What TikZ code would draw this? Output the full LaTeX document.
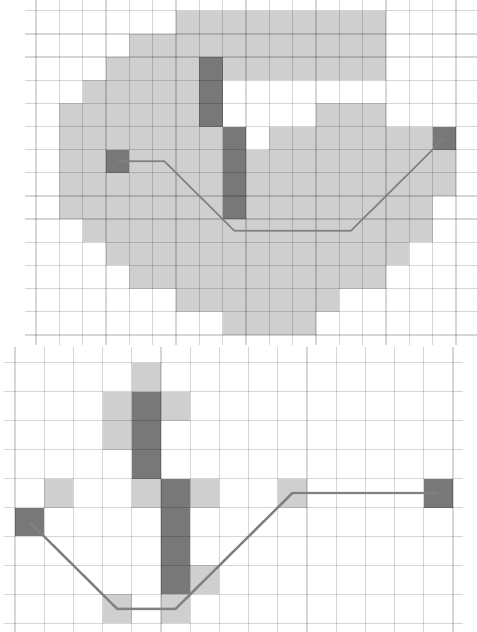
\documentclass[tikz,border=0pt]{standalone}
\usepackage{tikz}
\definecolor{cellGray}{HTML}{CFCFCF}
\definecolor{wallGray}{HTML}{787878}
\definecolor{pathGray}{HTML}{808080}

\begin{document}
\begin{tikzpicture}[x=0.75pt,y=-0.75pt,
  gridline/.style={draw=black,draw opacity=0.16,line width=1pt},
  seen/.style={fill=cellGray},
  wall/.style={fill=wallGray},
  route/.style={draw=pathGray,line width=1.2pt,line join=round}]
  \useasboundingbox (0,0) rectangle (476,632);

  % top: whole search area
  \begin{scope}[shift={(36,10.7)},x=17.5pt,y=-17.37pt]
    \foreach \r/\a/\b in {0/6/14,1/4/14,2/3/14,3/2/7,4/1/7,4/12/14,
      5/1/8,5/10/17,6/1/17,7/1/17,8/1/16,9/2/16,10/3/15,11/4/14,
      12/6/12,13/8/11}{
      \fill[seen] (\a,\r) rectangle (\b+1,\r+1);
    }
    \foreach \c/\r in {7/2,7/3,7/4,8/5,8/6,8/7,8/8,3/6,17/5}{
      \fill[wall] (\c,\r) rectangle ++(1,1);
    }
    \foreach \i in {0,...,18}{
      \draw[gridline] (\i,-0.46) -- (\i,14.43);
    }
    \foreach \j in {0,...,14}{
      \draw[gridline] (-0.47,\j) -- (18.9,\j);
    }
    \coordinate (topStart) at (3.5,6.5);
    \coordinate (topGoal) at (17.5,5.5);
    \draw[route] (topStart) -- ++(2,0) -- ++(3,3) -- ++(5,0) -- (topGoal);
  \end{scope}

  % bottom: close-up of the wall
  \begin{scope}[shift={(15,362.7)},x=21.9pt,y=-21.72pt]
    \foreach \c/\r in {4/0,3/1,5/1,3/2,1/4,4/4,6/4,9/4,6/7,3/8,5/8}{
      \fill[seen] (\c,\r) rectangle ++(1,1);
    }
    \foreach \c/\r in {4/1,4/2,4/3,5/4,5/5,5/6,5/7,0/5,14/4}{
      \fill[wall] (\c,\r) rectangle ++(1,1);
    }
    \foreach \i in {0,...,15}{
      \draw[gridline] (\i,-0.55) -- (\i,9.35);
    }
    \foreach \j in {0,...,9}{
      \draw[gridline] (-0.38,\j) -- (15.33,\j);
    }
    \coordinate (lowStart) at (0.5,5.5);
    \coordinate (lowGoal) at (14.5,4.5);
    \draw[route,line width=1.8pt] (lowStart) -- ++(3,3) -- ++(2,0) -- ++(4,-4) -- (lowGoal);
  \end{scope}
\end{tikzpicture}
\end{document}
